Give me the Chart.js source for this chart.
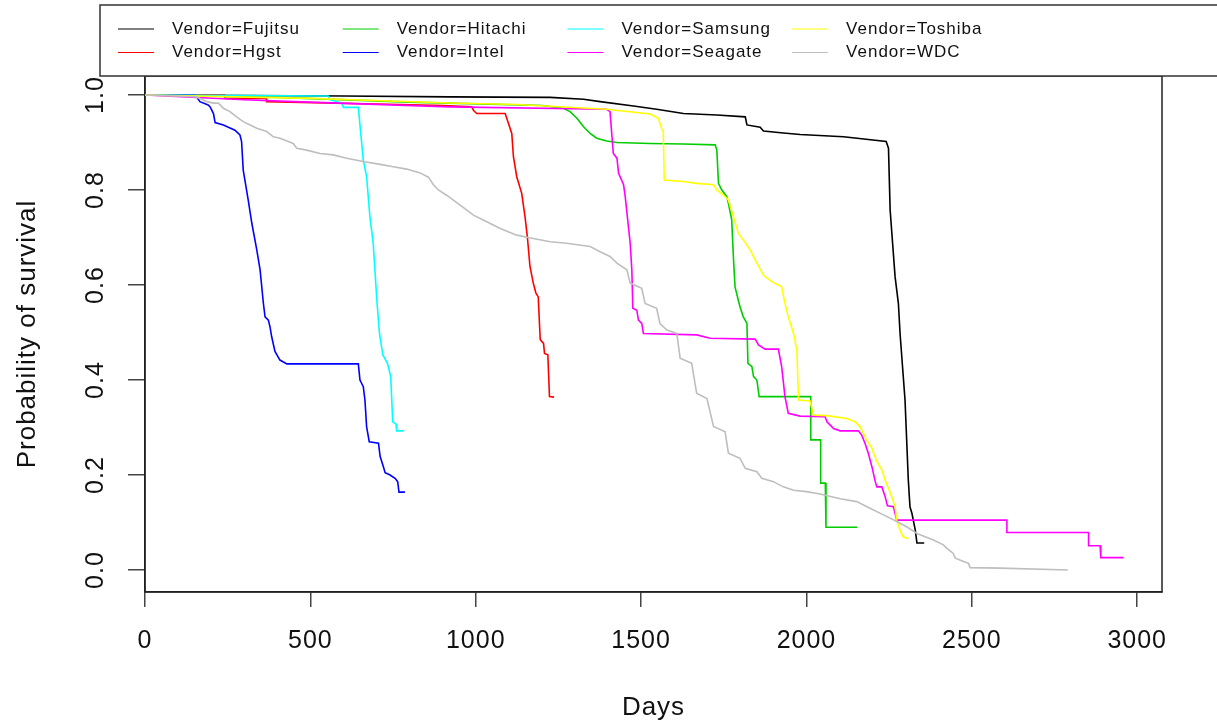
<!DOCTYPE html>
<html lang="es">
<head>
<meta charset="utf-8">
<title>Supervivencia por fabricante</title>
<script src="https://cdn.jsdelivr.net/npm/chart.js@4.4.1/dist/chart.umd.min.js"></script>
<style>
  html, body { margin: 0; padding: 0; background: #fff; }
  canvas { display: block; }
</style>
</head>
<body>
<canvas id="graficoSupervivencia" width="1217" height="723"></canvas>
<script>
// Curvas de supervivencia (Kaplan-Meier)
const fabricantes = ['Fujitsu', 'Hgst', 'Hitachi', 'Intel', 'Samsung', 'Seagate', 'Toshiba', 'WDC'];
const colores = ['#000000', '#FF0000', '#00CD00', '#0000FF', '#00FFFF', '#FF00FF', '#FFFF00', '#BEBEBE'];

const diasFujitsu = [0, 600, 922, 1225, 1326, 1376, 1477, 1547, 1628, 1729, 1815, 1820, 1860, 1870, 1930, 1981, 2112, 2241, 2248, 2253, 2268, 2278, 2283, 2298, 2308, 2313, 2319, 2329, 2334, 2356];
const survFujitsu = [1, 0.998, 0.996, 0.995, 0.991, 0.986, 0.977, 0.970, 0.961, 0.958, 0.954, 0.937, 0.932, 0.924, 0.920, 0.917, 0.912, 0.902, 0.888, 0.758, 0.617, 0.561, 0.498, 0.358, 0.189, 0.133, 0.119, 0.084, 0.057, 0.057];

const diasHgst = [0, 240, 242, 366, 368, 900, 988, 993, 1003, 1089, 1099, 1109, 1114, 1124, 1139, 1149, 1156, 1164, 1174, 1182, 1189, 1195, 1205, 1208, 1218, 1223, 1237];
const survHgst = [1, 1, 0.993, 0.993, 0.986, 0.978, 0.975, 0.968, 0.961, 0.961, 0.940, 0.919, 0.870, 0.828, 0.793, 0.744, 0.702, 0.639, 0.604, 0.583, 0.575, 0.485, 0.477, 0.456, 0.453, 0.365, 0.364];

const diasHitachi = [0, 400, 800, 1200, 1265, 1285, 1306, 1326, 1346, 1366, 1396, 1427, 1527, 1628, 1724, 1729, 1734, 1744, 1759, 1764, 1774, 1779, 1784, 1794, 1799, 1809, 1820, 1823, 1835, 1840, 1850, 1857, 2013, 2013, 2043, 2043, 2057, 2059, 2154];
const survHitachi = [1, 0.995, 0.985, 0.978, 0.972, 0.965, 0.951, 0.933, 0.919, 0.909, 0.903, 0.900, 0.898, 0.897, 0.895, 0.884, 0.814, 0.8, 0.786, 0.772, 0.737, 0.660, 0.596, 0.568, 0.554, 0.533, 0.519, 0.435, 0.428, 0.407, 0.4, 0.365, 0.365, 0.274, 0.274, 0.183, 0.183, 0.090, 0.090];

const diasIntel = [0, 150, 156, 166, 191, 197, 207, 212, 237, 252, 272, 287, 292, 297, 312, 323, 338, 348, 358, 363, 373, 378, 383, 393, 408, 429, 645, 650, 660, 665, 670, 678, 706, 711, 721, 726, 741, 756, 764, 768, 786];
const survIntel = [1, 1, 0.996, 0.986, 0.979, 0.975, 0.961, 0.942, 0.937, 0.932, 0.926, 0.916, 0.902, 0.842, 0.779, 0.730, 0.674, 0.632, 0.561, 0.533, 0.526, 0.512, 0.491, 0.460, 0.442, 0.434, 0.434, 0.400, 0.386, 0.358, 0.302, 0.270, 0.267, 0.239, 0.217, 0.205, 0.200, 0.193, 0.186, 0.164, 0.164];

const diasSamsung = [0, 554, 560, 595, 600, 645, 660, 670, 680, 690, 701, 709, 719, 733, 743, 749, 759, 761, 783];
const survSamsung = [1, 0.998, 0.99, 0.983, 0.974, 0.974, 0.863, 0.828, 0.744, 0.688, 0.568, 0.498, 0.453, 0.435, 0.407, 0.312, 0.307, 0.293, 0.293];

const diasSeagate = [0, 300, 450, 922, 1396, 1406, 1416, 1427, 1432, 1447, 1452, 1467, 1472, 1475, 1487, 1492, 1502, 1507, 1668, 1709, 1845, 1855, 1875, 1915, 1925, 1935, 1945, 1981, 2056, 2062, 2072, 2082, 2102, 2157, 2167, 2177, 2187, 2198, 2208, 2213, 2228, 2238, 2245, 2263, 2273, 2606, 2606, 2853, 2853, 2888, 2890, 2959];
const survSeagate = [1, 0.99, 0.986, 0.975, 0.970, 0.965, 0.877, 0.867, 0.835, 0.811, 0.786, 0.688, 0.632, 0.551, 0.547, 0.526, 0.519, 0.498, 0.495, 0.488, 0.486, 0.474, 0.465, 0.465, 0.428, 0.365, 0.330, 0.324, 0.323, 0.312, 0.305, 0.298, 0.293, 0.293, 0.284, 0.267, 0.246, 0.217, 0.186, 0.175, 0.175, 0.154, 0.135, 0.133, 0.105, 0.105, 0.079, 0.079, 0.051, 0.051, 0.026, 0.026];

const diasToshiba = [0, 500, 922, 1124, 1396, 1527, 1552, 1562, 1567, 1570, 1628, 1668, 1719, 1729, 1749, 1764, 1779, 1794, 1809, 1830, 1845, 1870, 1895, 1925, 1935, 1945, 1961, 1971, 1976, 2011, 2021, 2062, 2122, 2147, 2162, 2182, 2198, 2213, 2228, 2238, 2248, 2258, 2268, 2273, 2283, 2293, 2308];
const survToshiba = [1, 0.993, 0.983, 0.980, 0.970, 0.960, 0.951, 0.930, 0.923, 0.821, 0.818, 0.814, 0.811, 0.8, 0.789, 0.779, 0.744, 0.709, 0.695, 0.674, 0.653, 0.621, 0.607, 0.596, 0.561, 0.533, 0.498, 0.463, 0.358, 0.356, 0.326, 0.325, 0.319, 0.312, 0.302, 0.274, 0.256, 0.228, 0.211, 0.189, 0.172, 0.154, 0.133, 0.105, 0.084, 0.070, 0.066];

const diasWDC = [0, 100, 156, 187, 207, 222, 237, 257, 277, 297, 318, 338, 368, 388, 408, 448, 459, 489, 529, 569, 610, 660, 711, 751, 791, 832, 857, 872, 887, 912, 953, 993, 1023, 1074, 1124, 1174, 1225, 1275, 1346, 1376, 1406, 1427, 1457, 1467, 1502, 1512, 1547, 1557, 1578, 1608, 1618, 1653, 1668, 1699, 1719, 1754, 1764, 1799, 1815, 1850, 1865, 1900, 1930, 1961, 2000, 2041, 2102, 2152, 2192, 2233, 2273, 2303, 2334, 2384, 2414, 2424, 2444, 2450, 2475, 2490, 2495, 2586, 2790];
const survWDC = [1, 0.998, 0.996, 0.986, 0.983, 0.983, 0.972, 0.965, 0.954, 0.944, 0.937, 0.930, 0.923, 0.912, 0.909, 0.898, 0.888, 0.884, 0.877, 0.874, 0.867, 0.860, 0.854, 0.849, 0.844, 0.836, 0.827, 0.811, 0.8, 0.789, 0.768, 0.747, 0.737, 0.719, 0.705, 0.698, 0.691, 0.688, 0.681, 0.670, 0.660, 0.646, 0.632, 0.604, 0.593, 0.561, 0.551, 0.519, 0.505, 0.498, 0.446, 0.435, 0.372, 0.361, 0.302, 0.291, 0.246, 0.235, 0.214, 0.207, 0.193, 0.186, 0.175, 0.168, 0.165, 0.160, 0.150, 0.144, 0.130, 0.116, 0.102, 0.091, 0.077, 0.063, 0.053, 0.046, 0.035, 0.025, 0.018, 0.014, 0.005, 0.004, 0.0];

const ticksX = [0, 500, 1000, 1500, 2000, 2500, 3000];
const ticksY = [0, 0.2, 0.4, 0.6, 0.8, 1.0];

const series = [
    [diasFujitsu, survFujitsu],
    [diasHgst, survHgst],
    [diasHitachi, survHitachi],
    [diasIntel, survIntel],
    [diasSamsung, survSamsung],
    [diasSeagate, survSeagate],
    [diasToshiba, survToshiba],
    [diasWDC, survWDC]
];

const fuente = '"Liberation Sans", Arial, Helvetica, sans-serif';

// Caja del grafico y leyenda al estilo de R
const marcoYLeyenda = {
    id: 'marcoYLeyenda',
    beforeDraw(chart) {
        chart.ctx.letterSpacing = '1px';
    },
    beforeDatasetsDraw(chart) {
        const { ctx, chartArea: a } = chart;
        ctx.save();
        ctx.strokeStyle = '#222';
        ctx.lineWidth = 1.5;
        ctx.strokeRect(a.left, a.top, a.right - a.left, a.bottom - a.top);
        ctx.restore();
    },
    afterDraw(chart) {
        const ctx = chart.ctx;
        const arriba = 5;
        const abajo = chart.chartArea.top; // el borde inferior tapa el borde superior de la caja
        ctx.save();
        ctx.fillStyle = '#fff';
        ctx.fillRect(100, arriba, 1140, abajo - arriba);
        ctx.strokeStyle = '#333';
        ctx.lineWidth = 1.5;
        ctx.strokeRect(100, arriba, 1140, abajo - arriba);
        ctx.font = '17px ' + fuente;
        ctx.textBaseline = 'middle';
        chart.data.datasets.forEach((ds, i) => {
            const col = Math.floor(i / 2);
            const fila = i % 2;
            const x = 118 + col * 224.7;
            const y = 29 + fila * 23.5;
            ctx.strokeStyle = ds.borderColor;
            ctx.lineWidth = 1;
            ctx.beginPath();
            ctx.moveTo(x, y);
            ctx.lineTo(x + 36, y);
            ctx.stroke();
            ctx.fillStyle = '#111';
            ctx.fillText(ds.label, x + 54, y);
        });
        ctx.restore();
    }
};

const datasets = series.map(([dias, surv], i) => ({
    label: 'Vendor=' + fabricantes[i],
    data: dias.map((d, j) => ({ x: d, y: surv[j] })),
    borderColor: colores[i],
    backgroundColor: colores[i],
    borderWidth: 1.6,
    pointRadius: 0,
    tension: 0,
    fill: false,
    order: fabricantes.length - i
}));

const ctx = document.getElementById('graficoSupervivencia').getContext('2d');
new Chart(ctx, {
    type: 'line',
    data: { datasets },
    plugins: [marcoYLeyenda],
    options: {
        responsive: false,
        devicePixelRatio: 1,
        animation: false,
        layout: { padding: { top: 76, right: 55, left: 0, bottom: 0 } },
        plugins: {
            legend: { display: false },
            tooltip: { enabled: false }
        },
        scales: {
            x: {
                type: 'linear',
                min: 0,
                max: 3075,
                afterBuildTicks: (eje) => { eje.ticks = ticksX.map(v => ({ value: v })); },
                afterFit: (eje) => { eje.height = 131; eje.paddingLeft = 0; eje.paddingRight = 0; },
                grid: { drawOnChartArea: false, drawTicks: true, tickLength: 15, color: '#444', lineWidth: 1.5 },
                border: { display: true, color: '#222', width: 1.5 },
                ticks: {
                    padding: 19,
                    color: '#111',
                    autoSkip: false,
                    maxRotation: 0,
                    font: { family: fuente, size: 25 },
                    callback: (v) => String(v)
                },
                title: {
                    display: true,
                    text: 'Days',
                    color: '#111',
                    font: { family: fuente, size: 26 },
                    padding: { top: 0, bottom: 0 }
                }
            },
            y: {
                type: 'linear',
                min: -0.0463,
                max: 1.04,
                afterBuildTicks: (eje) => { eje.ticks = ticksY.map(v => ({ value: v })); },
                afterFit: (eje) => { eje.width = 145; eje.paddingTop = 0; eje.paddingBottom = 0; },
                grid: { drawOnChartArea: false, drawTicks: true, tickLength: 17, color: '#444', lineWidth: 1.5 },
                border: { display: true, color: '#222', width: 1.5 },
                ticks: {
                    padding: 15,
                    color: '#111',
                    minRotation: 90,
                    maxRotation: 90,
                    crossAlign: 'center',
                    font: { family: fuente, size: 25 },
                    callback: (v) => v.toFixed(1)
                },
                title: {
                    display: true,
                    text: 'Probability of survival',
                    color: '#111',
                    font: { family: fuente, size: 26 },
                    padding: { top: 12, bottom: 0 }
                }
            }
        }
    }
});
</script>
</body>
</html>
